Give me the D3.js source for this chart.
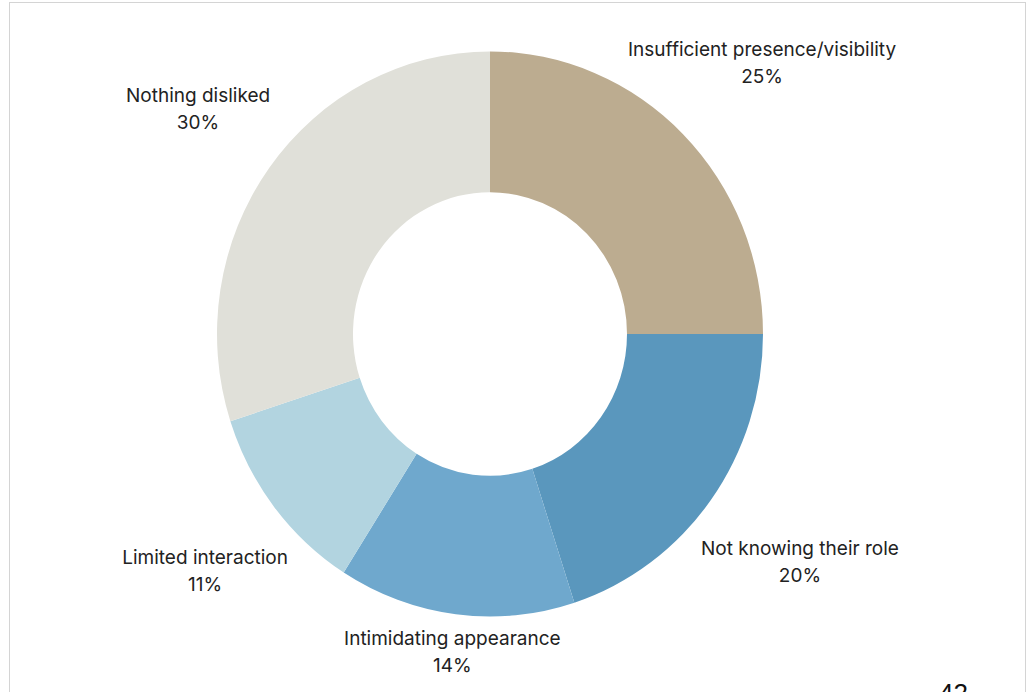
<!DOCTYPE html>
<html>
<head>
<meta charset="utf-8">
<script src="https://cdn.jsdelivr.net/npm/d3@7"></script>
<style>
  html, body { margin: 0; padding: 0; background: #fff; overflow: hidden; }
  .label { font-family: Inter, "Noto Sans", sans-serif; font-size: 19px; fill: #222; }
</style>
</head>
<body>
<div id="chart"></div>
<script>
// Chart data
const categories = ['Insufficient presence/visibility', 'Not knowing their role', 'Intimidating appearance', 'Limited interaction', 'Nothing disliked'];
const values = [25, 20, 14, 11, 30];
const colors = ['#bcac90', '#5a97bd', '#6fa8cd', '#b2d4e0', '#e0e0d9'];
const pageNumber = '42';

const WIDTH = 1030;
const HEIGHT = 692;
const CENTER = {x: 490, y: 334};
const OUTER_RADIUS = 273;
const INNER_RADIUS = 137;
const Y_STRETCH = 1.035;
const LABEL_RADIUS = 372;
const LABEL_DX = 9;
const LINE_GAP = 27;

const svg = d3.select('#chart').append('svg')
  .attr('width', WIDTH)
  .attr('height', HEIGHT);

// Page frame
svg.append('rect')
  .attr('x', 9.5).attr('y', 2.5)
  .attr('width', 1016).attr('height', 720)
  .attr('fill', 'none')
  .attr('stroke', '#d4d4d4')
  .attr('stroke-width', 1);

const data = categories.map((c, i) => ({name: c, value: values[i], color: colors[i]}));

const pie = d3.pie()
  .sort(null)
  .value(d => d.value);

const arc = d3.arc()
  .innerRadius(INNER_RADIUS)
  .outerRadius(OUTER_RADIUS);

const arcs = pie(data);

// Donut slices (slightly taller than wide, as in the source)
svg.append('g')
  .attr('transform', `translate(${CENTER.x}, ${CENTER.y}) scale(1, ${Y_STRETCH})`)
  .selectAll('path')
  .data(arcs)
  .enter()
  .append('path')
  .attr('d', arc)
  .attr('fill', d => d.data.color);

// Labels outside the ring, kept inside the page
const total = d3.sum(values);
const labels = svg.append('g')
  .selectAll('g')
  .data(arcs)
  .enter()
  .append('g')
  .attr('transform', d => {
    const mid = (d.startAngle + d.endAngle) / 2;
    const x = CENTER.x + LABEL_DX + LABEL_RADIUS * Math.sin(mid);
    let y = CENTER.y + 2 - LABEL_RADIUS * Y_STRETCH * Math.cos(mid);
    y = Math.max(51, Math.min(652, y));
    return `translate(${x}, ${y})`;
  });

labels.append('text')
  .attr('class', 'label')
  .attr('text-anchor', 'middle')
  .attr('y', -LINE_GAP / 2 + 6)
  .text(d => d.data.name);

labels.append('text')
  .attr('class', 'label')
  .attr('text-anchor', 'middle')
  .attr('y', LINE_GAP / 2 + 6)
  .text(d => Math.round(d.data.value / total * 100) + '%');

// Page number, cut by the bottom edge
svg.append('text')
  .attr('x', 939)
  .attr('y', 702)
  .attr('font-family', '"Liberation Sans", Arial, sans-serif')
  .attr('font-size', 26)
  .attr('fill', '#111')
  .text(pageNumber);
</script>
</body>
</html>
